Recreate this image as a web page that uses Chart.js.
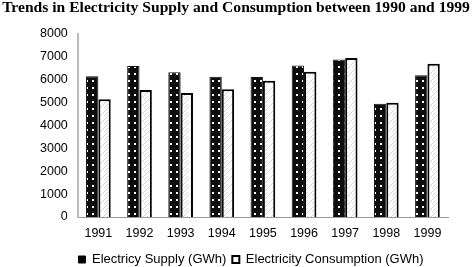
<!DOCTYPE html>
<html>
<head>
<meta charset="utf-8">
<script src="https://cdn.jsdelivr.net/npm/chart.js@4"></script>
<style>
  html, body { margin: 0; padding: 0; background: #fff; }
</style>
</head>
<body>
<canvas id="grafico" width="472" height="267"></canvas>
<script>
const anos = ["1991", "1992", "1993", "1994", "1995", "1996", "1997", "1998", "1999"];
const oferta = [6150, 6600, 6330, 6130, 6120, 6620, 6880, 4950, 6200];
const consumo = [5150, 5550, 5420, 5580, 5960, 6350, 6950, 5000, 6700];
const ticksY = [0, 1000, 2000, 3000, 4000, 5000, 6000, 7000, 8000];
const titulo = "Trends in Electricity Supply and Consumption between 1990 and 1999";

Chart.defaults.font.family = "'Liberation Sans', Arial, sans-serif";
Chart.defaults.color = "#000";

function padraoPontos() {
    const c = document.createElement("canvas");
    c.width = 6; c.height = 7;
    const ctx = c.getContext("2d");
    ctx.fillStyle = "#0d0d0d";
    ctx.fillRect(0, 0, 6, 7);
    ctx.fillStyle = "#fff";
    ctx.fillRect(2, 3, 2, 2);
    return ctx.createPattern(c, "repeat");
}

function padraoHachura() {
    const c = document.createElement("canvas");
    c.width = 8; c.height = 8;
    const ctx = c.getContext("2d");
    ctx.fillStyle = "#fff";
    ctx.fillRect(0, 0, 8, 8);
    ctx.strokeStyle = "#d4d4d4";
    ctx.lineWidth = 1;
    ctx.beginPath();
    ctx.moveTo(0, 8); ctx.lineTo(8, 0);
    ctx.moveTo(0, 4); ctx.lineTo(4, 0);
    ctx.stroke();
    return ctx.createPattern(c, "repeat");
}

// titulo desenhado a mao para ocupar a largura toda
const pluginTitulo = {
    id: "tituloLargo",
    afterLayout(chart) {
        // legenda um pouco mais a direita e acima, como no original
        chart.legend.left += 12;
        chart.legend.right += 12;
        chart.legend.top -= 3;
        chart.legend.bottom -= 3;
    },
    afterDraw(chart) {
        const ctx = chart.ctx;
        ctx.save();
        ctx.font = "bold 15.6px 'Liberation Serif', 'Times New Roman', serif";
        ctx.fillStyle = "#000";
        ctx.textAlign = "center";
        ctx.textBaseline = "middle";
        ctx.fillText(titulo, chart.width / 2, 8);
        ctx.restore();
    }
};

new Chart(document.getElementById("grafico"), {
    type: "bar",
    data: {
        labels: anos,
        datasets: [{
            label: "Electricy Supply (GWh)",
            data: oferta,
            backgroundColor: padraoPontos(),
            borderColor: "#111",
            borderWidth: 1,
            categoryPercentage: 0.6,
            barPercentage: 1.0
        }, {
            label: "Electricity Consumption (GWh)",
            data: consumo,
            backgroundColor: padraoHachura(),
            borderColor: "#000",
            borderWidth: 2,
            categoryPercentage: 0.6,
            barPercentage: 1.0
        }]
    },
    plugins: [pluginTitulo],
    options: {
        responsive: false,
        animation: false,
        layout: { padding: { left: 30, right: 24, top: 34, bottom: -12 } },
        plugins: {
            title: { display: false },
            legend: {
                position: "bottom",
                labels: {
                    boxWidth: 7,
                    boxHeight: 7,
                    padding: 6,
                    font: { size: 13 },
                    generateLabels: () => [
                        { text: "Electricy Supply (GWh)", fillStyle: "#000", strokeStyle: "#000", lineWidth: 1, datasetIndex: 0 },
                        { text: "Electricity Consumption (GWh)", fillStyle: "#fff", strokeStyle: "#000", lineWidth: 2, datasetIndex: 1 }
                    ]
                }
            },
            tooltip: { enabled: false }
        },
        scales: {
            x: {
                grid: { display: false, drawTicks: false },
                border: { display: true, color: "#999" },
                ticks: { font: { size: 12.5 }, padding: 9 }
            },
            y: {
                min: 0,
                max: 8000,
                afterBuildTicks: axis => { axis.ticks = ticksY.map(v => ({ value: v })); },
                grid: { display: false, drawTicks: false },
                border: { display: true, color: "#bbb", width: 2 },
                ticks: { font: { size: 12.5 }, padding: 10, callback: v => String(v) }
            }
        }
    }
});
</script>
</body>
</html>
